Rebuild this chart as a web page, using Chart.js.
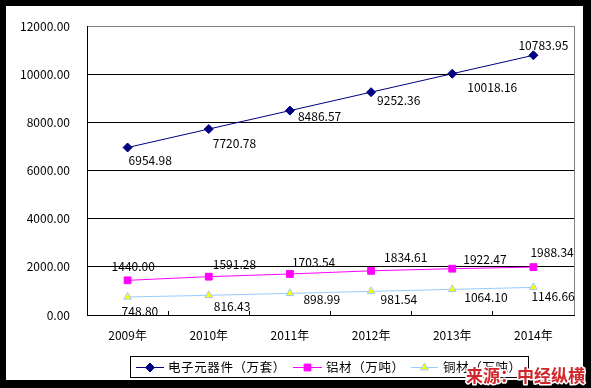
<!DOCTYPE html>
<html><head><meta charset="utf-8">
<script src="https://cdn.jsdelivr.net/npm/chart.js@4/dist/chart.umd.min.js"></script>
<style>html,body{margin:0;padding:0;background:#000;}#wrap{width:591px;height:388px;position:relative;}</style>
</head><body><div id="wrap"><canvas id="c" width="591" height="388"></canvas></div>
<script>
const categories = ['2009年','2010年','2011年','2012年','2013年','2014年'];
const seriesNames = ['电子元器件（万套）','铝材（万吨）','铜材（万吨）'];
const electronics = [6954.98, 7720.78, 8486.57, 9252.36, 10018.16, 10783.95];
const aluminum = [1440.00, 1591.28, 1703.54, 1834.61, 1922.47, 1988.34];
const copper = [748.80, 816.43, 898.99, 981.54, 1064.10, 1146.66];
const yTicks = [0, 2000, 4000, 6000, 8000, 10000, 12000];
const watermark = '来源：中经纵横';

// label offsets (style only) relative to each point
const labelOffsets = [
  [[1,13],[4,14],[8,6],[6,8.5],[15,14],[-15,-10]],
  [[-16,-13.5],[4,-12.5],[2,-12],[13,-13],[11,-9],[-3,-14.5]],
  [[-6,14],[5,11.5],[13.5,6.5],[9.5,8],[12,8],[-2,9.5]]
];
const FONT = '"Noto Sans CJK SC", "DejaVu Sans", sans-serif';

const framePlugin = {
  id: 'frame',
  beforeDraw(chart) {
    const ctx = chart.ctx;
    ctx.save();
    ctx.fillStyle = '#000';
    ctx.fillRect(0, 0, chart.width, chart.height);
    ctx.fillStyle = '#fff';
    ctx.fillRect(6, 6, 577, 374);
    ctx.restore();
  },
  afterDraw(chart) {
    const ctx = chart.ctx;
    const a = chart.chartArea;
    ctx.save();
    ctx.strokeStyle = '#808080';
    ctx.lineWidth = 1;
    ctx.beginPath();
    ctx.moveTo(Math.round(a.right) + 0.5, a.top);
    ctx.lineTo(Math.round(a.right) + 0.5, a.bottom);
    ctx.stroke();
    ctx.restore();
  }
};

const labelPlugin = {
  id: 'labels',
  afterDatasetsDraw(chart) {
    const ctx = chart.ctx;
    ctx.save();
    ctx.font = '12px ' + FONT;
    ctx.fillStyle = '#000';
    ctx.textAlign = 'left';
    ctx.textBaseline = 'middle';
    chart.data.datasets.forEach((ds, di) => {
      const meta = chart.getDatasetMeta(di);
      meta.data.forEach((pt, i) => {
        const o = labelOffsets[di][i];
        ctx.fillText(ds.data[i].toFixed(2), pt.x + o[0], pt.y + o[1]);
      });
    });
    ctx.restore();
  }
};

const legendPlugin = {
  id: 'customLegend',
  afterDraw(chart) {
    const ctx = chart.ctx;
    ctx.save();
    ctx.strokeStyle = '#000';
    ctx.lineWidth = 1;
    ctx.strokeRect(130.5, 356.5, 398, 21);
    const cy = 367;
    const items = [
      {x0: 136, x1: 164, mx: 150, tx: 168},
      {x0: 293, x1: 322, mx: 307.5, tx: 326},
      {x0: 411, x1: 438, mx: 424.5, tx: 443}
    ];
    chart.data.datasets.forEach((ds, di) => {
      const it = items[di];
      ctx.save();
      ctx.strokeStyle = ds.borderColor;
      ctx.lineWidth = 1;
      ctx.beginPath();
      ctx.moveTo(it.x0, cy + 0.5);
      ctx.lineTo(it.x1, cy + 0.5);
      ctx.stroke();
      ctx.fillStyle = ds.pointBackgroundColor;
      ctx.strokeStyle = ds.pointBorderColor;
      Chart.helpers.drawPoint(ctx, {pointStyle: ds.pointStyle, radius: ds.pointRadius, borderWidth: 1, rotation: 0}, it.mx, cy + 0.5);
      ctx.restore();
      ctx.save();
      ctx.font = '12.5px ' + FONT;
      if ('letterSpacing' in ctx) ctx.letterSpacing = '0.6px';
      ctx.textBaseline = 'middle';
      ctx.fillStyle = '#000';
      ctx.fillText(ds.label, it.tx, cy);
      ctx.restore();
    });
    ctx.restore();
  }
};

const watermarkPlugin = {
  id: 'wm',
  afterDraw(chart) {
    const ctx = chart.ctx;
    ctx.save();
    ctx.font = 'bold 17px ' + FONT;
    ctx.textBaseline = 'alphabetic';
    ctx.textAlign = 'left';
    ctx.lineJoin = 'round';
    ctx.strokeStyle = '#fff';
    ctx.lineWidth = 3;
    ctx.strokeText(watermark, 466, 382);
    ctx.fillStyle = '#d0262b';
    ctx.fillText(watermark, 466, 382);
    ctx.restore();
  }
};

new Chart(document.getElementById('c'), {
  type: 'line',
  data: {
    labels: categories,
    datasets: [
      {label: seriesNames[0], data: electronics, borderColor: '#000080', backgroundColor: '#000080',
       borderWidth: 1, pointStyle: 'rectRot', pointRadius: 4.5, pointBackgroundColor: '#000080', pointBorderColor: '#000080', tension: 0},
      {label: seriesNames[1], data: aluminum, borderColor: '#FF00FF', backgroundColor: '#FF00FF',
       borderWidth: 1, pointStyle: 'rect', pointRadius: 4.8, pointBackgroundColor: '#FF00FF', pointBorderColor: '#FF00FF', tension: 0},
      {label: seriesNames[2], data: copper, borderColor: '#99CCFF', backgroundColor: '#FFFF00',
       borderWidth: 1, pointStyle: 'triangle', pointRadius: 4.5, pointBackgroundColor: '#FFFF00', pointBorderColor: '#99CCFF', tension: 0}
    ]
  },
  options: {
    responsive: false,
    animation: false,
    events: [],
    layout: {padding: {left: 0, top: 26, right: 17, bottom: 0}},
    plugins: {legend: {display: false}, tooltip: {enabled: false}},
    scales: {
      x: {
        offset: true,
        grid: {display: true, offset: true, drawOnChartArea: false, drawTicks: true, tickLength: -4, color: '#000'},
        border: {display: true, color: '#000', width: 1},
        ticks: {font: {family: FONT, size: 12}, color: '#000', padding: 17, maxRotation: 0},
        afterFit(s) { s.height = 73; }
      },
      y: {
        min: 0, max: 12000,
        afterBuildTicks(s) { s.ticks = yTicks.map(v => ({value: v})); },
        grid: {drawTicks: false, color: (c) => (c.tick && c.tick.value === 12000) ? '#808080' : '#000'},
        border: {display: true, color: '#000', width: 1},
        ticks: {font: {family: FONT, size: 12}, color: '#000', padding: 17, callback: (v) => Number(v).toFixed(2)},
        afterFit(s) { s.width = 87; }
      }
    }
  },
  plugins: [framePlugin, labelPlugin, legendPlugin, watermarkPlugin]
});
</script>
</body></html>
